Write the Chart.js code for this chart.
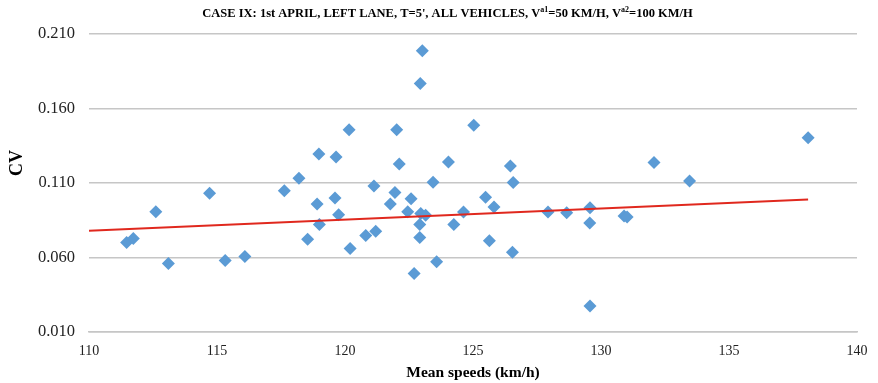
<!DOCTYPE html>
<html>
<head>
<meta charset="utf-8">
<script src="https://cdn.jsdelivr.net/npm/chart.js@4.4.1/dist/chart.umd.min.js"></script>
<style>
html,body{margin:0;padding:0;background:#fff;}
#wrap{width:878px;height:383px;position:relative;}
</style>
</head>
<body>
<div id="wrap"><canvas id="c" width="878" height="383"></canvas></div>
<script>
// Mean speed (km/h) of each observation
const meanSpeeds = [111.47,111.73,112.61,113.10,114.71,115.32,116.09,117.63,118.20,118.54,
  118.91,118.98,119.00,119.61,119.65,119.75,120.16,120.20,120.81,121.13,
  121.20,121.77,121.95,122.02,122.12,122.45,122.58,122.70,122.92,122.94,
  123.02,122.92,122.96,123.15,123.44,123.58,124.04,124.25,124.63,125.03,
  125.49,125.64,125.82,126.46,126.57,126.54,127.93,128.66,129.57,129.56,
  129.57,130.90,131.02,132.07,133.46,138.09];
// Coefficient of variation of each observation
const cvValues = [0.0701,0.0728,0.0907,0.0560,0.1031,0.0580,0.0607,0.1048,0.1132,0.0723,
  0.0959,0.1295,0.0822,0.0999,0.1275,0.0887,0.1458,0.0661,0.0748,0.1080,
  0.0777,0.0959,0.1037,0.1458,0.1228,0.0907,0.0994,0.0493,0.0822,0.1768,
  0.1988,0.0735,0.0896,0.0883,0.1105,0.0572,0.1241,0.0822,0.0905,0.1488,
  0.1005,0.0713,0.0939,0.1214,0.1103,0.0636,0.0905,0.0900,0.0934,0.0831,
  0.0275,0.0878,0.0871,0.1237,0.1113,0.1403];
// Linear trendline end points
const trendSpeeds = [110, 138.09];
const trendCV = [0.0779, 0.0990];
const xTicks = [110,115,120,125,130,135,140];
const yTicks = [0.010,0.060,0.110,0.160,0.210];
const titleParts = [["CASE IX: 1st APRIL, LEFT LANE, T=5', ALL VEHICLES, V",false],["a1",true],["=50 KM/H, V",false],["a2",true],["=100 KM/H",false]];
const xTitle = "Mean speeds (km/h)";
const yTitle = "CV";

const points = meanSpeeds.map((x,i)=>({x:x,y:cvValues[i]}));
const trend = trendSpeeds.map((x,i)=>({x:x,y:trendCV[i]}));

const textPlugin = {
  id:'texts',
  afterDraw(chart){
    const ctx = chart.ctx;
    ctx.save();
    const big = 'bold 12.5px "Liberation Serif", "Times New Roman", serif';
    const small = 'bold 8px "Liberation Serif", "Times New Roman", serif';
    let total = 0;
    titleParts.forEach(([t,sup])=>{ctx.font = sup?small:big; total += ctx.measureText(t).width;});
    let x = 447.5 - total/2;
    ctx.fillStyle = '#000';
    ctx.textBaseline = 'alphabetic';
    ctx.textAlign = 'left';
    titleParts.forEach(([t,sup])=>{
      ctx.font = sup?small:big;
      ctx.fillText(t, x, sup?12:16.5);
      x += ctx.measureText(t).width;
    });
    ctx.font = 'bold 18px "Liberation Serif", "Times New Roman", serif';
    ctx.translate(17,163);
    ctx.rotate(-Math.PI/2);
    ctx.textAlign='center';ctx.textBaseline='middle';
    ctx.fillText(yTitle,0,0);
    ctx.restore();
  }
};

new Chart(document.getElementById('c'),{
  type:'scatter',
  data:{datasets:[
    {label:'CV',data:points,pointStyle:'rectRot',pointRadius:6.5,pointHoverRadius:6.5,
     backgroundColor:'#5B9BD5',borderColor:'#5B9BD5',borderWidth:0,order:2},
    {label:'Linear',type:'line',data:trend,borderColor:'#E0281E',borderWidth:2,pointRadius:0,
     fill:false,order:1}
  ]},
  options:{
    responsive:false,animation:false,
    layout:{padding:{left:0,right:21,top:34,bottom:0}},
    plugins:{legend:{display:false},tooltip:{enabled:false},title:{display:false}},
    scales:{
      x:{type:'linear',min:110,max:140,
        afterBuildTicks(s){s.ticks = xTicks.map(v=>({value:v}));},
        afterFit(s){s.height=51;},
        grid:{display:false,drawTicks:false},
        border:{display:true,color:'#c6c6c6',width:1.5},
        ticks:{padding:10.5,color:'#222',font:{family:'"Liberation Serif", serif',size:14},
          callback:v=>String(v)},
        title:{display:true,text:xTitle,color:'#000',padding:{top:0,bottom:1},
          font:{family:'"Liberation Serif", serif',size:15.5,weight:'bold'}}
      },
      y:{type:'linear',min:0.01,max:0.21,
        afterBuildTicks(s){s.ticks = yTicks.map(v=>({value:v}));},
        afterFit(s){s.width=89;},
        grid:{color:'#c6c6c6',lineWidth:1.5,drawTicks:false},
        border:{display:false},
        ticks:{padding:14,color:'#222',font:{family:'"Liberation Serif", serif',size:16.5},
          callback:v=>Number(v).toFixed(3)}
      }
    }
  },
  plugins:[textPlugin]
});
</script>
</body>
</html>
